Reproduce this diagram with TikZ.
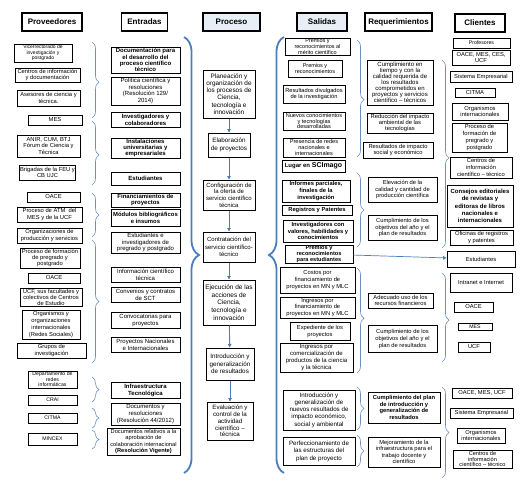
\documentclass[tikz,border=0pt]{standalone}
\usepackage{fontspec}
\setmainfont{Liberation Sans}
\usetikzlibrary{arrows.meta,decorations.pathreplacing}
\definecolor{pblue}{HTML}{4A7EBB}
\definecolor{bracegray}{HTML}{6C8DBF}
\definecolor{headfill}{HTML}{E8EEF7}
\tikzset{>={Triangle[length=3.5pt,width=3.5pt]}}

\begin{document}
\begin{tikzpicture}[x=1pt, y=-1pt,
header/.style={draw, line width=1.1pt, font=\bfseries\fontsize{8}{9}\selectfont, minimum height=18pt, inner sep=1pt},
block/.style={draw, line width=0.85pt, align=center, inner sep=0.5pt, font=\fontsize{5.8}{6.4}\selectfont},
fs/.style 2 args={font=\fontsize{#1}{#2}\selectfont},
bfs/.style 2 args={font=\bfseries\fontsize{#1}{#2}\selectfont},
stage/.style={block, line width=1pt, inner sep=1pt},
grp/.style={decorate, decoration={brace, amplitude=7pt, aspect=#1}, draw=bracegray, line width=0.6pt},
grp/.default=0.5,
bigbrace/.style={decorate, decoration={brace, amplitude=15pt}, draw=pblue, line width=1.8pt},
flow/.style={->, draw=pblue, line width=0.9pt}
]
\useasboundingbox (0,0) rectangle (531,482);

% column headers
\node (hprov) [header, minimum width=60] at (52,22) {Proveedores};
\node (hent) [header, minimum width=46] at (144.5,22) {Entradas};
\node (hproc) [header, minimum width=57, fill=headfill] at (231.5,22) {Proceso};
\node (hsal) [header, minimum width=50, fill=headfill] at (322,22) {Salidas};
\node (hreq) [header, minimum width=67] at (398.5,22) {Requerimientos};
\node (hcli) [header, minimum width=50] at (480,23) {Clientes};

% proveedores
\node (v1) [block, fs={5}{5.6}, minimum width=58, minimum height=18] at (43,53) {Vicerrectorado de\\investigación y\\postgrado};
\node (v2) [block, minimum width=65, minimum height=14] at (47.5,75) {Centros de información\\y documentación};
\node (v3) [block, minimum width=63, minimum height=16] at (48.5,98) {Asesores de ciencia y\\técnica.};
\node (v4) [block, minimum width=54, minimum height=10] at (55,120) {MES};
\node (v5) [block, fs={5.8}{6.8}, minimum width=63, minimum height=22] at (48.5,146) {ANIR, CUM, BTJ\\Fórum de Ciencia y\\Técnica};
\node (v6) [block, minimum width=55, minimum height=15] at (47.5,172.5) {Brigadas de la FEU y\\CB UJC};
\node (v7) [block, minimum width=53, minimum height=10] at (53.5,197) {OACE};
\node (v8) [block, minimum width=65, minimum height=15] at (49.5,214.5) {Proceso de ATM\ \ del\\MES y de la UCF};
\node (v9) [block, minimum width=65, minimum height=15] at (49.5,235.5) {Organizaciones de\\producción y servicios};
\node (v10) [block, minimum width=60, minimum height=20] at (50,258) {Proceso de formación\\de pregrado y\\postgrado};
\node (v11) [block, minimum width=52, minimum height=10] at (54,278) {OACE};
\node (v12) [block, fs={5.8}{6}, minimum width=62, minimum height=18] at (51,297) {UCF, sus facultades y\\colectivos de Centros\\de Estudio};
\node (v13) [block, fs={5.8}{6.8}, minimum width=58, minimum height=29] at (51,324.5) {Organismos y\\organizaciones\\internacionales\\(Redes Sociales)};
\node (v14) [block, minimum width=69, minimum height=15] at (51.5,350.5) {Grupos de\\investigación};
\node (v15) [block, fs={5.2}{5.5}, minimum width=49, minimum height=17] at (52.5,379.5) {Departamento de\\redes\\informáticas};
\node (v16) [block, fs={5.2}{6}, minimum width=49, minimum height=10] at (52.5,400) {CRAI};
\node (v17) [block, fs={5.2}{6}, minimum width=49, minimum height=10] at (52.5,418) {CITMA};
\node (v18) [block, fs={5.2}{6}, minimum width=49, minimum height=12] at (52.5,439) {MINCEX};

% entradas
\node (e1) [block, bfs={6}{6.2}, minimum width=69, minimum height=26] at (145.5,60) {Documentación para\\el desarrollo del\\proceso científico\\técnico};
\node (e2) [block, fs={6}{6.5}, minimum width=69, minimum height=28] at (145.5,91) {Política científica y\\resoluciones\\(Resolución 129/\\2014)};
\node (e3) [block, bfs={6}{7}, minimum width=69, minimum height=15] at (145.5,119.5) {Investigadores y\\colaboradores};
\node (e4) [block, bfs={6}{6.4}, minimum width=69, minimum height=20] at (145.5,148) {Instalaciones\\universitarias y\\empresariales};
\node (e5) [block, bfs={6}{7}, minimum width=69, minimum height=13] at (145.5,178.5) {Estudiantes};
\node (e6) [block, bfs={6}{6.4}, minimum width=69, minimum height=14] at (145.5,200) {Financiamientos de\\proyectos};
\node (e7) [block, bfs={5.9}{7}, minimum width=69, minimum height=17] at (145.5,217.5) {Módulos bibliográficos\\e insumos};
\node (e8) [block, fs={6}{6.6}, minimum width=69, minimum height=21] at (145.5,242.5) {Estudiantes e\\investigadores de\\pregrado y postgrado};
\node (e9) [block, fs={6}{7}, minimum width=69, minimum height=15] at (145.5,274.5) {Información científico\\técnica};
\node (e10) [block, fs={6}{7}, minimum width=69, minimum height=15] at (145.5,294.5) {Convenios y contratos\\de SCT};
\node (e11) [block, fs={6}{7}, minimum width=69, minimum height=16] at (145.5,320) {Convocatorias para\\proyectos};
\node (e12) [block, fs={6}{7}, minimum width=69, minimum height=15] at (145.5,344.5) {Proyectos Nacionales\\e Internacionales};
\node (e13) [block, bfs={6}{7}, minimum width=69, minimum height=16] at (145.5,390) {Infraestructura\\Tecnológica};
\node (e14) [block, fs={6}{6.6}, minimum width=69, minimum height=22] at (145.5,414) {Documentos y\\resoluciones\\(Resolución 44/2012)};
\node (e15) [block, fs={5.7}{6.4}, minimum width=73, minimum height=27] at (143.5,441.5) {Documentos relativos a la\\aprobación de\\colaboración internacional\\\textbf{(Resolución Vigente)}};

% proceso
\node (p1) [stage, fs={6.4}{7.2}, minimum width=52, minimum height=48] at (229,94) {Planeación y\\organización de\\los procesos de\\Ciencia,\\tecnología e\\innovación};
\node (p2) [stage, fs={6.3}{7.5}, minimum width=42, minimum height=24] at (229,145) {Elaboración\\de proyectos};
\node (p3) [stage, fs={6}{6.6}, minimum width=52, minimum height=30] at (229,195) {Configuración de\\la oferta de\\servicio científico\\técnica};
\node (p4) [stage, fs={6}{7.5}, minimum width=52, minimum height=30] at (229,247) {Contratación del\\servicio científico-\\técnico};
\node (p5) [stage, fs={6.5}{7.6}, minimum width=52, minimum height=45] at (229,302.5) {Ejecución de las\\acciones de\\Ciencia,\\tecnología e\\innovación};
\node (p6) [stage, fs={6.3}{7.5}, minimum width=48, minimum height=32] at (230,364) {Introducción y\\generalización\\de resultados};
\node (p7) [stage, fs={6.2}{6.8}, minimum width=46, minimum height=38] at (230,421) {Evaluación y\\control de la\\actividad\\científico --\\técnica};

\draw [flow] (p1) -- (p2);
\draw [flow] (p2) -- (p3);
\draw [flow] (p3) -- (p4);
\draw [flow] (p4) -- (p5);
\draw [flow] (p5) -- (p6);
\draw [flow] (p6) -- (p7);

% salidas
\node (s1) [block, fs={5.5}{5.6}, minimum width=65, minimum height=17] at (317.5,46.5) {Premios y\\reconocimientos al\\mérito científico};
\node (s2) [block, fs={5.5}{6.4}, minimum width=54, minimum height=17] at (315,68.5) {Premios y\\reconocimientos};
\node (s3) [block, fs={5.7}{6.8}, minimum width=62, minimum height=18] at (314,94) {Resultados divulgados\\de la investigación};
\node (s4) [block, fs={5.6}{5.8}, minimum width=62, minimum height=18] at (314,121) {Nuevos conocimientos\\y tecnologías\\desarrolladas};
\node (s5) [block, fs={5.6}{6}, minimum width=62, minimum height=19] at (314,147.5) {Presencia de redes\\nacionales e\\internacionales};
\node (s6) [block, bfs={6}{7}, minimum width=63, minimum height=12] at (313.5,166) {Lugar en {\fontsize{7}{7}\selectfont SCImago}};
\node (s7) [block, bfs={5.8}{6.6}, minimum width=68, minimum height=22] at (316,191) {Informes parciales,\\finales de la\\investigación};
\node (s8) [block, bfs={5.8}{7}, minimum width=70, minimum height=10] at (317,210) {Registros y Patentes};
\node (s9) [block, bfs={5.8}{6.6}, minimum width=70, minimum height=22] at (318,231) {Investigadores con\\valores, habilidades y\\conocimientos};
\node (s10) [block, bfs={5.6}{5.9}, minimum width=68, minimum height=18] at (319,254) {Premios y\\reconocimientos\\para estudiantes};
\node (s11) [block, fs={5.8}{7}, minimum width=75, minimum height=26] at (317.5,280) {Costos por\\financiamiento de\\proyectos en MN y MLC};
\node (s12) [block, fs={5.8}{6.5}, minimum width=75, minimum height=21] at (317.5,307.5) {Ingresos por\\financiamiento de\\proyectos en MN y MLC};
\node (s13) [block, fs={5.8}{7}, minimum width=60, minimum height=18] at (320,331) {Expediente de los\\proyectos};
\node (s14) [block, fs={6}{6.8}, minimum width=73, minimum height=29] at (316.5,357.5) {Ingresos por\\comercialización de\\productos de la ciencia\\y la técnica};
\node (s15) [block, fs={6.2}{7.2}, minimum width=72, minimum height=40] at (319,410) {Introducción y\\generalización de\\nuevos resultados de\\impacto económico,\\social y ambiental};
\node (s16) [block, fs={6.2}{7.5}, minimum width=72, minimum height=28] at (319,451) {Perfeccionamiento de\\las estructuras del\\plan de proyecto};

% requerimientos
\node (r1) [block, fs={6}{6.1}, minimum width=66, minimum height=45] at (400,82.5) {Cumplimiento en\\tiempo y con la\\calidad requerida de\\los resultados\\comprometidos en\\proyectos y servicios\\científico -- técnicos};
\node (r2) [block, fs={5.8}{6.3}, minimum width=66, minimum height=20] at (400,123) {Reducción del impacto\\ambiental de las\\tecnologías};
\node (r3) [block, fs={5.8}{6.5}, minimum width=70, minimum height=16] at (398,150) {Resultados de impacto\\social y económico};
\node (r4) [block, fs={5.8}{6.8}, minimum width=69, minimum height=25] at (402.5,189.5) {Elevación de la\\calidad y cantidad de\\producción científica};
\node (r5) [block, fs={5.8}{6.8}, minimum width=69, minimum height=25] at (402.5,227.5) {Cumplimiento de los\\objetivos del año y el\\plan de resultados};
\node (r6) [block, fs={5.8}{6.5}, minimum width=65, minimum height=15] at (400.5,300.5) {Adecuado uso de los\\recursos financieros};
\node (r7) [block, fs={5.8}{7}, minimum width=69, minimum height=27] at (402.5,338.5) {Cumplimiento de los\\objetivos del año y el\\plan de resultados};
\node (r8) [block, bfs={5.8}{6.6}, minimum width=72, minimum height=31] at (404,407.5) {Cumplimiento del plan\\de introducción y\\generalización de\\resultados};
\node (r9) [block, fs={5.8}{6.6}, minimum width=72, minimum height=30] at (404,452) {Mejoramiento de la\\infraestructura para el\\trabajo docente y\\científico};

% clientes
\node (c1) [block, fs={5.2}{6}, minimum width=57, minimum height=10] at (481.5,43) {Profesores};
\node (c2) [block, fs={5.8}{6.2}, minimum width=58, minimum height=15] at (481,57.5) {OACE, MES, CES,\\UCF};
\node (c3) [block, minimum width=62, minimum height=11] at (481,76.5) {Sistema Empresarial};
\node (c4) [block, minimum width=40, minimum height=9] at (475,92.5) {CITMA};
\node (c5) [block, fs={5.8}{6.8}, minimum width=56, minimum height=17] at (480,111.5) {Organismos\\internacionales};
\node (c6) [block, fs={5.8}{6.8}, minimum width=55, minimum height=29] at (479.5,137.5) {Proceso de\\formación de\\pregrado y\\postgrado};
\node (c7) [block, fs={5.8}{6.6}, minimum width=62, minimum height=21] at (481,167.5) {Centros de\\información\\científico -- técnico};
\node (c8) [block, bfs={6}{7.2}, minimum width=66, minimum height=42] at (480,206) {Consejos editoriales\\de revistas y\\editoras de libros\\nacionales e\\internacionales};
\node (c9) [block, fs={5.8}{6.2}, minimum width=63, minimum height=15] at (481.5,237.5) {Oficinas de registros\\y patentes};
\node (c10) [block, minimum width=68, minimum height=16] at (481,259) {Estudiantes};
\node (c11) [block, minimum width=62, minimum height=19] at (481,282.5) {Intranet e Internet};
\node (c12) [block, minimum width=39, minimum height=10] at (473.5,307) {OACE};
\node (c13) [block, fs={5.2}{6}, minimum width=34, minimum height=7] at (475,326.5) {MES};
\node (c14) [block, minimum width=32, minimum height=10] at (474,347) {UCF};
\node (c15) [block, minimum width=60, minimum height=10] at (482,393) {OACE, MES, UCF};
\node (c16) [block, minimum width=63, minimum height=10] at (481.5,413) {Sistema Empresarial};
\node (c17) [block, fs={5.8}{6.2}, minimum width=48, minimum height=15] at (481,435.5) {Organismos\\internacionales};
\node (c18) [block, fs={5.6}{5.8}, minimum width=59, minimum height=18] at (482.5,459) {Centros de\\información\\científico -- técnico};

\draw [flow, line width=0.7pt] (s10) -- (c10);

% braces
\draw [grp=0.53] (92,42) -- (92,118);
\draw [grp=0.53] (92,121) -- (92,185);
\draw [grp] (92,193) -- (92,237);
\draw [grp] (92,240) -- (92,363);
\draw [grp] (92,377) -- (92,402);
\draw [grp] (92,408) -- (92,428);
\draw [grp] (92,430) -- (92,449);
\draw [bigbrace] (184,37) -- (184,473);
\draw [bigbrace] (284,473) -- (284,37);
\draw [grp=0.51] (357,40) -- (357,157);
\draw [grp] (357,173) -- (357,247);
\draw [grp=0.48] (357,268) -- (357,373);
\draw [grp] (357,387) -- (357,430);
\draw [grp] (357,435) -- (357,467);
\draw [grp=0.52] (442,60) -- (442,248);
\draw [grp=0.53] (442,273) -- (442,362);
\draw [grp] (442,387) -- (442,478);
\end{tikzpicture}
\end{document}
